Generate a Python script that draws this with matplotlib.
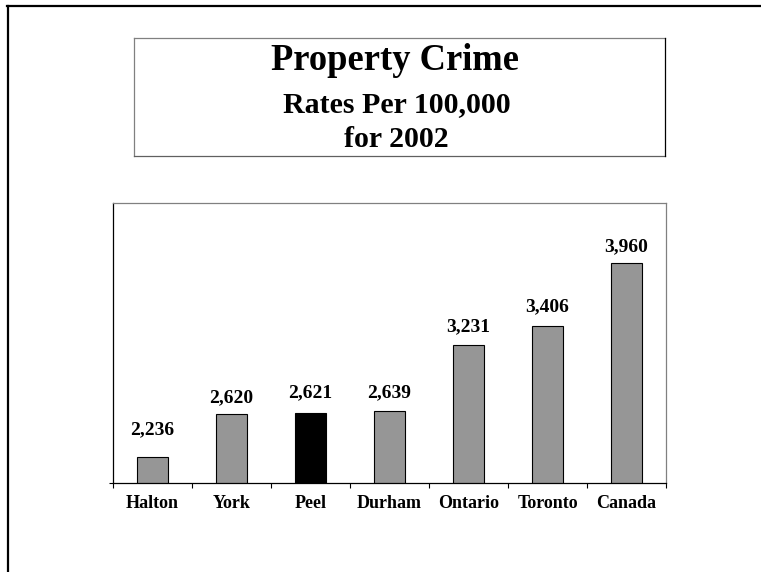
import matplotlib.pyplot as plt
from matplotlib.lines import Line2D

# -----------------------------
# Data
# -----------------------------
regions = ["Halton", "York", "Peel", "Durham", "Ontario", "Toronto", "Canada"]
rates = [2236, 2620, 2621, 2639, 3231, 3406, 3960]
highlight = "Peel"

title_lines = ["Property Crime", "Rates Per 100,000", "for 2002"]

plt.rcParams["font.family"] = ["Liberation Serif", "DejaVu Serif"]
plt.rcParams["font.weight"] = "bold"

fig = plt.figure(figsize=(7.61, 5.72), dpi=100)
W, H = 761, 572


def fx(px):
    return px / W


def fy(py):
    return 1 - py / H


# -----------------------------
# Outer frame (left and top only)
# -----------------------------
fig.add_artist(Line2D([fx(8), fx(8)], [fy(5.7), 0], color="black", lw=1.6))
fig.add_artist(Line2D([fx(7), fx(761)], [fy(5.7), fy(5.7)], color="black", lw=1.6))

# -----------------------------
# Title box
# -----------------------------
bx0, bx1, by0, by1 = 134, 665, 37.5, 156.5
fig.add_artist(Line2D([fx(bx0), fx(bx0)], [fy(by0), fy(by1)], color="#808080", lw=0.9))
fig.add_artist(Line2D([fx(bx0), fx(bx1)], [fy(by0), fy(by0)], color="#808080", lw=0.9))
fig.add_artist(Line2D([fx(bx0), fx(bx1)], [fy(by1), fy(by1)], color="#606060", lw=0.9))
fig.add_artist(Line2D([fx(bx1), fx(bx1)], [fy(by0), fy(by1)], color="black", lw=0.9))

fig.text(fx(395), fy(70), title_lines[0], ha="center", va="baseline",
         fontsize=26.3, fontweight="bold")
fig.text(fx(396.5), fy(112), title_lines[1], ha="center", va="baseline",
         fontsize=21.5, fontweight="bold")
fig.text(fx(396), fy(147), title_lines[2], ha="center", va="baseline",
         fontsize=21.5, fontweight="bold")

# -----------------------------
# Bar chart
# -----------------------------
ax = fig.add_axes([fx(113), fy(483), fx(666) - fx(113), (483 - 203) / H])

colors = ["black" if r == highlight else "#969696" for r in regions]
x = list(range(len(regions)))
bars = ax.bar(x, rates, width=0.4, color=colors, edgecolor="black",
              linewidth=0.8, bottom=0)

ax.set_xlim(-0.5, len(regions) - 0.5)
ax.set_ylim(2000, 4500)

# value labels above the bars
lift = [16, 8.5, 11.5, 10, 10, 10, 8.5]
for b, v, d in zip(bars, rates, lift):
    ax.annotate(f"{v:,}", (b.get_x() + b.get_width() / 2, v),
                xytext=(0, d), textcoords="offset points",
                ha="center", va="baseline", fontsize=14, fontweight="bold")

# category labels, ticks on the category boundaries
ax.set_xticks(x)
ax.set_xticklabels(regions, fontsize=13, fontweight="bold")
ax.tick_params(axis="x", which="major", length=0, pad=9)
ax.set_xticks([i - 0.5 for i in range(len(regions) + 1)], minor=True)
ax.tick_params(axis="x", which="minor", length=3.5, width=0.8,
               direction="out", color="black")

ax.set_yticks([2000])
ax.set_yticklabels([])
ax.tick_params(axis="y", length=3, width=0.8, direction="out")

for side in ["top", "right"]:
    ax.spines[side].set_color("#808080")
    ax.spines[side].set_linewidth(0.9)
for side in ["left", "bottom"]:
    ax.spines[side].set_color("black")
    ax.spines[side].set_linewidth(0.9)

fig.savefig("out.png", dpi=100)
